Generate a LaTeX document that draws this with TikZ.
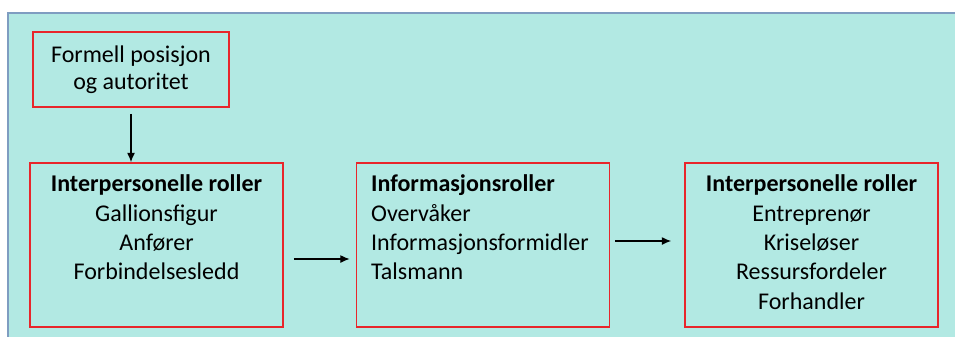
\documentclass[tikz,border=0pt]{standalone}
\usepackage{fontspec}
\setmainfont{Carlito}
\usetikzlibrary{arrows.meta}
\definecolor{bakgrunn}{HTML}{B2E9E3}
\definecolor{ramme}{HTML}{7F9DC1}
\definecolor{boksrod}{HTML}{E8262B}
\tikzset{
  boks/.style={draw=boksrod,line width=1.3pt,inner xsep=11pt,inner ysep=0pt,
    font=\fontsize{18}{22}\selectfont},
  pil/.style={-{Latex[length=7pt,width=6pt]},line width=0.9pt}
}
\newcommand{\rolletekst}[2][\centering]{\parbox[c][123pt][t]{167.75pt}{#1\rule{0pt}{21.5pt}#2}}

\begin{document}
\begin{tikzpicture}[x=0.75pt,y=-0.75pt]
  \useasboundingbox (0,0) rectangle (955,336);
  \fill[bakgrunn] (8,13) rectangle (960,340);
  \draw[ramme,line width=1.5pt] (8,340) -- (8,13) -- (960,13);

  \node[boks,inner xsep=0pt,minimum width=147pt,minimum height=56.25pt,align=center,
    font=\fontsize{18}{20.5}\selectfont] (formell) at (131,69.5) {Formell posisjon\\og autoritet};

  \node[boks] (ip) at (156.5,245) {\rolletekst{\textbf{Interpersonelle roller}\\Gallionsfigur\\Anfører\\Forbindelsesledd}};
  \node[boks] (info) at (483,245) {\rolletekst[\raggedright]{\textbf{Informasjonsroller}\\Overvåker\\Informasjonsformidler\\Talsmann}};
  \node[boks] (beslut) at (811.5,245) {\rolletekst{\textbf{Interpersonelle roller}\\Entreprenør\\Kriseløser\\Ressursfordeler\\Forhandler}};

  \draw[pil] ([yshift=-4.5pt]formell.south) -- (formell.south |- ip.north);
  \draw[pil] ([shift={(10,14)}]ip.east) -- ([shift={(-6,14)}]info.west);
  \draw[pil] ([shift={(5,-4)}]info.east) -- ([shift={(-13,-4)}]beslut.west);
\end{tikzpicture}
\end{document}
